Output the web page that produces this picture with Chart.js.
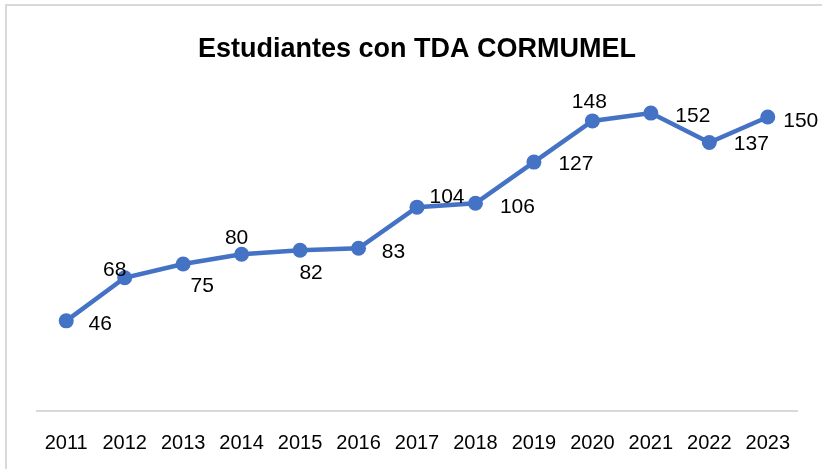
<!DOCTYPE html>
<html>
<head>
<meta charset="utf-8">
<script src="https://cdn.jsdelivr.net/npm/chart.js@4"></script>
<style>
    html, body { margin: 0; padding: 0; background: #fff; }
    #wrap { position: relative; width: 822px; height: 469px; }
    #frame {
        position: absolute; left: 5px; top: 4px; right: 0; bottom: 0;
        border-top: 2px solid #d9d9d9; border-left: 2px solid #d9d9d9;
        pointer-events: none;
    }
</style>
</head>
<body>
<div id="wrap">
    <canvas id="chart" width="822" height="469"></canvas>
    <div id="frame"></div>
</div>
<script>
// data
const years = ["2011", "2012", "2013", "2014", "2015", "2016", "2017", "2018", "2019", "2020", "2021", "2022", "2023"];
const students = [46, 68, 75, 80, 82, 83, 104, 106, 127, 148, 152, 137, 150];

// where each value label sits relative to its point (px)
const labelOffsets = [
    [34, 3], [-10, -8], [19, 22], [-5, -16], [11, 23], [35, 4], [30, -10],
    [42, 4], [42, 2], [-3, -19], [42, 3], [42, 2], [33, 4]
];

// value labels, no datalabels plugin here
const valueLabels = {
    id: "valueLabels",
    afterDatasetsDraw(chart) {
        const ctx = chart.ctx;
        const meta = chart.getDatasetMeta(0);
        ctx.save();
        ctx.font = "21px 'Liberation Sans', Arial, sans-serif";
        ctx.fillStyle = "#000";
        ctx.textAlign = "center";
        ctx.textBaseline = "middle";
        meta.data.forEach(function (pt, i) {
            const off = labelOffsets[i];
            ctx.fillText(String(students[i]), pt.x + off[0], pt.y + off[1]);
        });
        ctx.restore();
    }
};

const blue = "#4472C4";

new Chart(document.getElementById("chart"), {
    type: "line",
    data: {
        labels: years,
        datasets: [
            {
                data: students,
                borderColor: blue,
                backgroundColor: blue,
                borderWidth: 4.5,
                pointRadius: 7.5,
                pointBackgroundColor: blue,
                pointBorderColor: blue,
                pointBorderWidth: 0,
                tension: 0,
            },
        ],
    },
    options: {
        responsive: false,
        animation: false,
        layout: {
            padding: { left: 37, right: 25, top: 0, bottom: -6 },
        },
        scales: {
            x: {
                offset: true,
                grid: { display: false, drawTicks: false },
                border: { color: "#d9d9d9", width: 2 },
                ticks: {
                    color: "#000",
                    padding: 20,
                    maxRotation: 0,
                    autoSkip: false,
                    font: { family: "'Liberation Sans', Arial, sans-serif", size: 20 },
                },
            },
            y: {
                display: false,
                min: 0,
                max: 160,
            },
        },
        plugins: {
            legend: { display: false },
            tooltip: { enabled: false },
            title: {
                display: true,
                text: "Estudiantes con TDA CORMUMEL",
                color: "#000",
                font: { family: "'Liberation Sans', Arial, sans-serif", size: 27, weight: "bold" },
                padding: { top: 33, bottom: 32 },
            },
        },
    },
    plugins: [valueLabels],
});
</script>
</body>
</html>
